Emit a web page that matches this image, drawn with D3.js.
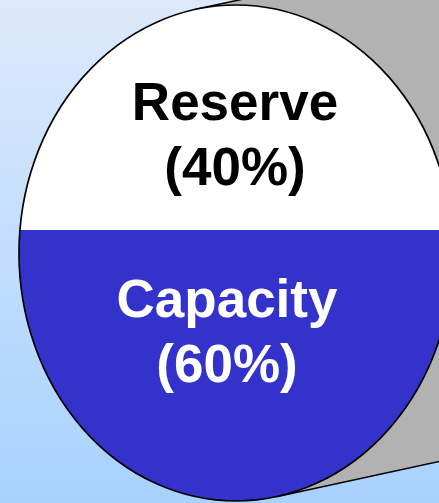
<!DOCTYPE html>
<html>
<head>
<meta charset="utf-8">
<script src="https://cdn.jsdelivr.net/npm/d3@7"></script>
<style>
    html, body { margin: 0; padding: 0; overflow: hidden; }
    svg { display: block; }
</style>
</head>
<body>
<svg class="chart"></svg>
<script>
"use strict";
(function () {

    const categories = ["Reserve", "Capacity"];
    const shares = [40, 60];
    const fills = ["#ffffff", "#3333cc"];
    const textColors = ["#000000", "#ffffff"];

    const WIDTH = 439, HEIGHT = 503;
    const CX = 236, CY = 253, RX = 217, RY = 248;

    const svg = d3.select(".chart")
        .attr("width", WIDTH)
        .attr("height", HEIGHT)

    const defs = svg.append("defs")

    const grad = defs.append("linearGradient")
        .attr("id", "bg")
        .attr("x1", 0).attr("y1", 0)
        .attr("x2", 0).attr("y2", 1)
    grad.append("stop").attr("offset", "0%").attr("stop-color", "#dde9fb")
    grad.append("stop").attr("offset", "100%").attr("stop-color", "#a7d2fe")

    defs.append("clipPath")
        .attr("id", "tank")
        .append("ellipse")
        .attr("cx", CX).attr("cy", CY)
        .attr("rx", RX).attr("ry", RY)

    svg.append("rect")
        .attr("width", WIDTH)
        .attr("height", HEIGHT)
        .attr("fill", "url(#bg)")

    // grey extrusion behind the disc, tangent lines going up-right
    const slope = -0.216;
    const theta = Math.atan(RY / (-slope * RX));
    const bottomPt = [CX + RX * Math.cos(theta), CY + RY * Math.sin(theta)];
    const topPt = [CX - RX * Math.cos(theta), CY - RY * Math.sin(theta)];
    const far = 1000;
    const shift = pt => [pt[0] + far, pt[1] + far * slope];

    svg.append("path")
        .attr("d", d3.line()([topPt, shift(topPt), shift(bottomPt), bottomPt]) + "Z")
        .attr("fill", "#b2b2b2")
        .attr("stroke", "none")

    svg.append("path")
        .attr("d", d3.line()([topPt, shift(topPt)]))
        .attr("stroke", "#000")
        .attr("stroke-width", 1.5)
    svg.append("path")
        .attr("d", d3.line()([bottomPt, shift(bottomPt)]))
        .attr("stroke", "#000")
        .attr("stroke-width", 1.5)

    // level scale: cumulative share -> height in the disc
    const y = d3.scaleLinear()
        .domain([0, 100])
        .range([40, 515])

    const stacked = shares.map((v, i) => {
        const start = d3.sum(shares.slice(0, i));
        return { name: categories[i], value: v, start: start, end: start + v, i: i };
    })

    svg.append("g")
        .attr("clip-path", "url(#tank)")
        .selectAll("rect")
        .data(stacked)
        .enter()
        .append("rect")
        .attr("x", CX - RX - 2)
        .attr("width", RX * 2 + 4)
        .attr("y", d => d.i === 0 ? 0 : y(d.start))
        .attr("height", d => d.i === 0 ? y(d.end) : HEIGHT - y(d.start))
        .attr("fill", d => fills[d.i])

    svg.append("ellipse")
        .attr("cx", CX).attr("cy", CY)
        .attr("rx", RX).attr("ry", RY)
        .attr("fill", "none")
        .attr("stroke", "#000")
        .attr("stroke-width", 1.7)

    const split = y(shares[0]);

    const label = svg.selectAll("text.label")
        .data(stacked)
        .enter()
        .append("text")
        .attr("class", "label")
        .attr("text-anchor", "middle")
        .attr("font-family", "Liberation Sans, Arial, sans-serif")
        .attr("font-weight", "bold")
        .attr("font-size", 53)
        .attr("fill", d => textColors[d.i])
        .attr("transform", d => d.i === 0
            ? "translate(235," + (split - 110) + ")"
            : "translate(227," + (split + 87) + ")")

    label.append("tspan")
        .attr("x", 0).attr("y", 0)
        .text(d => d.name)
    label.append("tspan")
        .attr("x", 0).attr("y", 65)
        .text(d => "(" + d.value + "%)")
})();
</script>
</body>
</html>
